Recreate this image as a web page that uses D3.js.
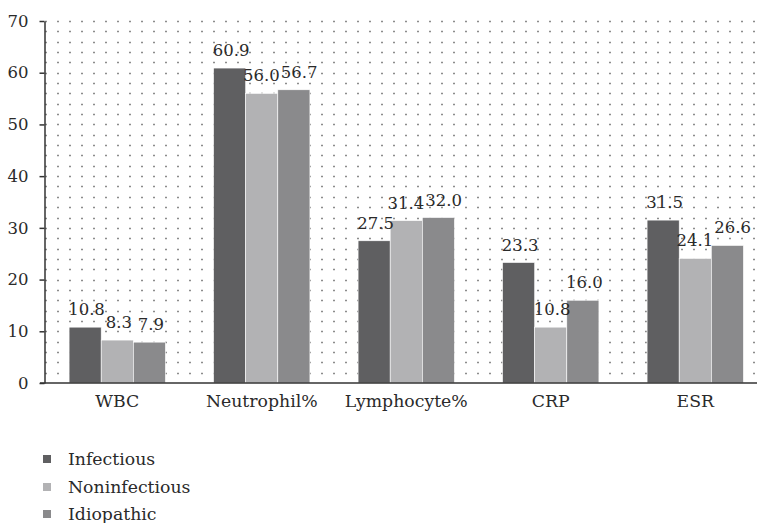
<!DOCTYPE html>
<html>
<head>
<meta charset="utf-8">
<script src="https://cdn.jsdelivr.net/npm/d3@7"></script>
<style>
  html, body { margin: 0; padding: 0; background: #fff; }
</style>
</head>
<body>
<svg id="chart" width="757" height="523"></svg>
<script>
const categories = ["WBC", "Neutrophil%", "Lymphocyte%", "CRP", "ESR"];
const seriesNames = ["Infectious", "Noninfectious", "Idiopathic"];
const infectious = [10.8, 60.9, 27.5, 23.3, 31.5];
const noninfectious = [8.3, 56.0, 31.4, 10.8, 24.1];
const idiopathic = [7.9, 56.7, 32.0, 16.0, 26.6];
const yTicks = [0, 10, 20, 30, 40, 50, 60, 70];
const colors = ["#5f5f61", "#b2b2b4", "#8a8a8c"];

(function () {
const FONT = "'DejaVu Serif', 'Noto Serif', 'Liberation Serif', serif";
const FS_NUM = "16.5px";
const FS_WORD = "17.3px";
const TXT = "#2a2a2a";
const series = [infectious, noninfectious, idiopathic];
const svg = d3.select("#chart").style("font-family", FONT);

const plotLeft = 44.5, plotBottom = 383, plotTop = 21;
const y = d3.scaleLinear().domain([0, 70]).range([plotBottom, plotTop]);
const x0 = d3.scaleBand().domain(categories).range([45, 767.5]).paddingInner(1/3).paddingOuter(1/6);
const x1 = d3.scaleBand().domain(seriesNames).range([0, x0.bandwidth()]);

// dotted gridlines every 2 units
const gridVals = d3.range(2, 71, 2);
svg.append("g").selectAll("line").data(gridVals).join("line")
  .attr("x1", 45).attr("x2", 757)
  .attr("y1", d => Math.round(y(d)) + 0.5).attr("y2", d => Math.round(y(d)) + 0.5)
  .attr("stroke", "#8c8c8c").attr("stroke-width", 1.6)
  .attr("stroke-dasharray", "2 10");

// bars
const groups = svg.append("g").selectAll("g").data(categories).join("g")
  .attr("transform", c => `translate(${x0(c)},0)`);
groups.selectAll("rect")
  .data((c, i) => seriesNames.map((s, j) => ({ s, j, v: series[j][i] })))
  .join("rect")
  .attr("x", d => x1(d.s))
  .attr("width", x1.bandwidth())
  .attr("y", d => y(d.v))
  .attr("height", d => plotBottom - y(d.v))
  .attr("fill", d => colors[d.j])
  .attr("stroke", "#ffffff").attr("stroke-width", 0.6);

// value labels
groups.each(function () {
  const g = d3.select(this);
  const labels = g.selectAll("text.val")
    .data((c => { const i = categories.indexOf(c); return seriesNames.map((s, j) => ({ s, j, v: series[j][i] })); })(g.datum()))
    .join("text").attr("class", "val")
    .attr("x", d => x1(d.s) + x1.bandwidth() / 2 + 1.5)
    .attr("y", d => y(d.v) - 12)
    .attr("text-anchor", "middle")
    .style("font-family", FONT)
    .style("font-size", FS_NUM)
    .style("fill", TXT)
    .text(d => d.v.toFixed(1));
  // resolve overlaps between neighbouring labels by nudging sideways
  const nodes = labels.nodes();
  for (let k = 1; k < nodes.length; k++) {
    const a = nodes[k - 1].getBBox(), b = nodes[k].getBBox();
    const vOverlap = a.y < b.y + b.height - 3 && b.y < a.y + a.height - 3;
    const hOverlap = a.x + a.width + 1 - b.x;
    if (vOverlap && hOverlap > 0) {
      const pa = +nodes[k - 1].getAttribute("x"), pb = +nodes[k].getAttribute("x");
      nodes[k - 1].setAttribute("x", pa - hOverlap * 0.35);
      nodes[k].setAttribute("x", pb + hOverlap * 0.65);
    }
  }
});

// y axis
const yAxis = d3.axisLeft(y).tickValues(yTicks).tickSize(5).tickPadding(11).tickSizeOuter(0);
const gy = svg.append("g").attr("transform", `translate(${plotLeft},0)`).call(yAxis);
gy.attr("font-family", null).attr("font-size", null);
gy.select(".domain").attr("stroke", "#333").attr("stroke-width", 1.5);
gy.selectAll(".tick line").attr("stroke", "#333").attr("stroke-width", 1.5);
gy.selectAll(".tick text").style("font-size", FS_NUM).style("fill", TXT)
  .style("font-family", FONT);

// x axis
const xAxis = d3.axisBottom(x0).tickSize(0).tickPadding(12);
const gx = svg.append("g").attr("transform", `translate(0,${plotBottom})`).call(xAxis);
gx.attr("font-family", null).attr("font-size", null);
gx.select(".domain").remove();
gx.append("line").attr("x1", 40).attr("x2", 757).attr("y1", 0).attr("y2", 0)
  .attr("stroke", "#333").attr("stroke-width", 1.5);
gx.selectAll(".tick text").style("font-size", FS_WORD).style("fill", TXT)
  .style("font-family", FONT);

// legend
const legend = svg.append("g").selectAll("g").data(seriesNames).join("g")
  .attr("transform", (d, i) => `translate(43,${[455, 483, 510][i]})`);
legend.append("rect").attr("width", 8).attr("height", 8).attr("fill", (d, i) => colors[i]);
legend.append("text").attr("x", 25).attr("y", 10)
  .style("font-family", FONT).style("font-size", FS_WORD).style("fill", TXT)
  .text(d => d);
})();
</script>
</body>
</html>
